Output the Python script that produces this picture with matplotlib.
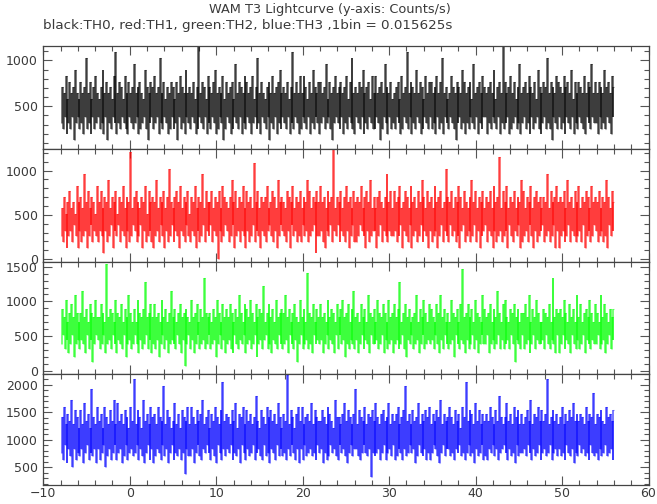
import numpy as np
import matplotlib
matplotlib.use("Agg")
import matplotlib.pyplot as plt
from matplotlib.ticker import MultipleLocator

title = "WAM T3 Lightcurve (y-axis: Counts/s)"
subtitle = "black:TH0, red:TH1, green:TH2, blue:TH3 ,1bin = 0.015625s"

bin_width = 0.015625  # s
t_start = -7.95
t_stop = 56.05

# counts per bin (rate = counts / bin_width)
th0_counts = [
5,11,4,10,6,13,3,9,5,12,4,10,6,11,2,14,5,10,6,9,
4,12,5,10,3,11,6,16,4,10,5,12,3,9,6,11,4,13,5,10,
6,9,4,11,5,14,3,10,6,12,2,10,5,11,4,9,6,13,5,17,
3,10,5,12,4,11,6,9,5,13,4,10,3,12,6,10,5,11,4,15,
5,10,6,11,3,12,4,10,5,9,6,14,4,11,2,10,5,12,6,11,
4,13,5,10,6,11,3,16,5,10,4,12,6,9,5,11,3,10,4,12,
6,11,4,9,5,12,2,10,6,13,4,11,5,10,3,14,6,10,5,11,
4,10,6,12,5,9,3,11,4,18,6,10,5,12,4,11,6,9,3,13,
5,11,4,10,6,12,5,14,3,10,4,11,6,10,5,13,2,9,4,12,
6,10,5,11,3,12,4,9,6,15,5,10,4,12,6,11,3,10,5,13,
4,12,6,10,5,11,3,13,5,9,6,11,4,16,5,10,3,12,6,10,
5,9,4,11,6,12,2,10,5,13,4,10,6,11,3,12,5,14,4,10,
6,11,5,10,4,12,6,9,3,11,5,17,4,10,6,12,5,10,3,13,
4,10,6,13,5,11,4,9,6,12,3,10,5,14,4,11,6,10,5,12,
3,12,5,10,6,11,4,15,5,9,6,12,4,10,2,11,5,13,6,10,
5,11,4,12,6,10,3,11,5,13,4,9,6,12,5,16,4,10,3,11,
6,10,5,12,4,11,6,14,3,10,5,11,4,12,6,9,5,13,4,10,
4,13,6,10,5,11,2,12,4,10,6,15,5,11,3,10,6,12,4,9,
5,10,4,11,6,12,5,9,3,13,4,10,6,11,5,17,4,10,6,12,
3,11,5,10,4,14,6,10,5,12,3,11,4,9,6,13,5,10,4,12,
6,12,4,10,5,11,3,13,6,10,4,12,5,16,3,10,6,11,5,9,
4,10,6,13,5,11,4,10,2,12,5,11,6,10,4,14,5,12,3,10,
5,11,4,12,6,9,5,15,4,10,6,11,3,12,5,10,4,13,6,11,
6,10,3,11,5,12,4,10,6,14,5,9,4,11,6,12,3,10,5,18,
4,12,5,10,6,11,3,13,4,10,5,12,6,9,4,11,5,15,3,10,
5,11,6,12,4,10,5,13,3,11,6,10,4,12,5,9,6,14,4,11,
3,10,5,12,6,11,4,16,5,10,4,12,2,11,6,10,5,13,4,12,
6,11,4,10,5,13,3,11,6,12,5,10,4,14,6,9,3,12,5,10,
4,12,6,11,5,10,4,13,3,10,6,12,5,11,4,15,6,10,5,12,
5,10,3,12,6,11,4,10,5,14,4,11,6,12,5,10,3,13,6,11,
]

th1_counts = [
4,9,3,11,5,8,2,10,4,12,5,9,3,10,6,8,4,13,2,10,
5,11,3,9,4,15,5,10,2,12,4,9,6,11,3,10,5,8,4,13,
3,10,5,12,4,9,1,11,5,10,3,14,4,9,6,11,2,10,5,12,
4,8,6,11,3,10,5,13,4,9,2,11,5,10,3,19,4,9,6,11,
5,12,3,10,4,9,6,11,2,10,5,13,3,8,4,12,5,10,3,11,
2,10,4,14,5,9,3,11,6,10,4,12,2,9,5,11,3,16,4,10,
6,9,3,11,5,12,4,10,2,13,5,9,4,11,3,10,6,12,4,8,
3,11,5,10,4,13,2,9,5,11,3,10,4,15,6,9,3,12,5,10,
4,10,6,12,3,9,5,11,4,10,0,12,5,9,3,13,4,11,6,10,
5,9,3,11,4,14,6,10,2,12,4,9,5,11,3,10,5,13,4,9,
2,12,5,10,3,11,4,9,6,17,3,10,5,12,4,9,2,11,5,10,
4,11,3,13,5,9,6,10,4,12,3,11,5,9,2,14,4,10,6,11,
5,10,4,9,3,12,5,11,2,10,6,13,4,9,5,11,3,10,4,12,
3,9,6,11,4,10,5,14,3,12,4,9,5,11,6,10,1,12,4,10,
4,13,5,10,3,11,2,9,5,12,4,10,6,11,3,20,5,9,4,11,
6,10,3,12,5,9,4,11,3,13,5,10,2,11,4,9,6,12,3,10,
3,11,4,10,6,13,5,9,4,11,2,12,5,10,3,14,4,9,5,11,
5,9,2,11,4,12,6,10,3,9,5,11,4,15,3,10,5,12,4,9,
4,12,5,10,3,11,4,13,6,9,2,10,5,12,4,11,3,9,6,13,
2,10,4,11,5,9,3,12,4,10,6,14,3,11,5,9,4,12,2,10,
5,11,3,9,4,13,5,10,2,11,4,12,6,9,3,10,5,16,4,11,
3,10,6,12,4,9,5,11,3,10,4,13,2,11,5,9,6,12,3,10,
4,9,5,11,3,14,4,10,6,12,3,9,5,11,2,10,4,12,5,9,
6,11,3,10,5,12,4,9,2,13,5,10,3,11,4,18,5,9,3,12,
4,10,5,13,2,9,6,11,4,10,3,12,5,9,4,11,6,10,2,14,
3,12,4,9,5,11,3,10,6,13,4,9,2,11,5,12,3,10,4,11,
5,9,6,11,3,10,4,15,5,9,3,12,4,10,6,11,2,13,5,10,
2,11,4,10,5,12,3,9,4,14,6,10,3,11,5,9,4,12,3,10,
4,13,5,9,3,11,6,10,2,12,4,11,5,9,3,13,4,10,6,11,
5,10,3,12,4,9,5,11,3,10,4,14,2,11,6,9,4,12,5,10,
]

th2_counts = [
6,14,8,12,5,16,7,11,4,13,6,15,8,12,3,17,6,13,7,11,
5,13,7,18,6,12,4,14,8,11,5,15,7,13,2,12,6,16,8,12,
7,12,5,15,6,13,8,11,4,24,6,12,7,14,5,13,8,11,6,16,
4,13,7,12,6,15,5,11,8,14,3,12,6,17,7,13,5,11,6,14,
8,11,6,16,4,13,7,12,5,14,6,20,8,12,5,13,7,15,4,12,
6,15,5,12,7,13,3,11,6,16,8,12,5,14,7,11,4,13,6,18,
7,12,6,14,5,11,8,13,6,15,4,12,7,13,1,14,6,12,8,11,
5,16,7,12,4,13,6,15,8,11,5,14,6,12,7,21,5,13,6,12,
8,13,5,11,6,14,7,12,3,16,6,13,8,11,5,15,7,12,4,14,
6,12,7,15,5,13,4,11,8,14,6,12,5,17,7,13,6,11,8,15,
4,14,6,12,7,16,5,13,6,11,8,15,3,12,6,14,7,13,5,19,
7,11,8,13,5,15,6,12,4,14,7,11,6,16,5,12,8,13,6,14,
5,13,6,17,7,12,4,14,8,11,6,13,5,15,7,12,2,11,6,16,
8,12,5,14,6,11,7,22,5,13,6,12,4,15,8,11,6,14,7,12,
6,15,7,12,4,13,6,11,8,16,5,12,7,14,6,13,4,11,8,15,
5,12,8,14,6,16,7,12,3,13,6,15,5,11,7,14,6,18,5,12,
7,13,4,11,6,15,8,12,5,14,7,11,6,17,4,13,8,12,6,14,
6,11,7,16,5,13,6,12,8,15,4,13,7,11,5,16,6,12,7,13,
4,15,6,12,7,14,5,20,6,11,8,13,5,15,3,12,7,14,6,11,
8,12,5,13,6,17,7,11,4,14,6,12,8,16,5,13,6,11,7,15,
6,14,7,12,5,11,8,15,6,13,4,17,7,12,5,14,8,11,6,13,
5,11,6,16,7,13,3,12,8,14,6,11,5,15,7,23,6,12,4,13,
7,15,5,12,6,14,8,11,5,16,7,13,4,12,6,11,8,17,6,14,
6,12,8,13,4,15,6,11,7,14,5,12,6,18,8,13,5,11,7,15,
5,16,6,12,7,11,5,14,8,13,6,15,2,12,7,14,6,11,5,13,
8,13,5,15,6,12,7,17,4,11,6,14,8,12,5,16,7,13,6,11,
6,11,7,14,5,13,8,12,6,15,5,11,7,21,6,12,4,14,8,13,
4,14,6,12,8,16,5,13,7,11,6,15,4,12,8,14,6,11,5,17,
7,12,5,15,6,11,8,13,4,14,7,12,6,16,5,13,7,11,6,15,
6,13,8,11,5,17,6,12,7,15,4,13,6,11,8,14,5,12,7,14,
]

th3_counts = [
12,22,10,25,14,20,9,23,13,21,11,27,8,20,13,24,10,22,12,19,
11,24,13,20,9,26,12,21,14,23,10,19,12,30,11,22,13,20,9,25,
13,21,10,23,12,19,14,25,8,22,11,20,13,24,10,21,12,27,14,20,
10,26,12,21,13,23,9,20,11,24,14,22,10,19,12,25,13,21,11,33,
12,20,14,24,10,22,13,19,11,27,9,21,12,23,14,20,10,25,13,22,
9,23,11,20,13,25,12,22,10,21,14,31,11,20,13,24,9,22,12,19,
14,21,10,26,12,20,11,23,13,19,10,24,12,22,6,21,13,25,11,20,
11,25,13,22,9,20,12,24,14,21,11,23,10,27,13,20,12,22,14,24,
12,19,10,23,13,21,11,25,9,22,14,20,12,24,10,32,13,21,11,23,
13,22,12,20,14,24,10,21,12,26,11,19,13,23,9,22,14,25,12,20,
10,24,13,21,11,23,12,20,14,22,10,28,12,21,13,19,11,24,10,22,
14,20,11,25,12,22,9,24,13,21,12,23,10,20,14,26,11,22,13,19,
11,23,12,21,10,34,13,20,11,24,14,22,12,19,10,23,13,25,9,21,
13,25,10,20,14,22,11,23,12,21,13,26,11,20,12,24,10,22,14,21,
12,21,13,24,9,22,12,20,10,25,11,23,14,21,12,19,13,27,11,22,
10,22,14,20,12,23,13,26,11,21,9,24,12,22,14,20,11,23,13,30,
13,20,11,24,10,22,12,21,14,25,12,20,11,23,13,22,5,24,12,21,
11,26,12,22,13,20,10,23,12,24,14,21,10,22,12,26,13,20,11,23,
14,21,10,23,11,25,13,20,12,22,10,24,13,31,11,21,12,23,14,20,
12,24,13,21,9,22,11,26,14,20,12,23,11,21,13,24,10,22,12,25,
10,20,12,23,14,21,13,24,11,22,9,27,12,20,14,23,11,21,13,22,
13,25,11,22,12,20,10,24,13,21,12,23,14,19,11,25,12,22,10,32,
12,21,14,24,11,23,12,20,9,26,13,21,11,24,12,20,14,23,10,21,
11,23,10,21,13,25,12,22,14,20,11,24,13,21,10,28,12,22,13,20,
14,22,12,26,10,21,13,23,11,20,12,25,9,22,14,24,11,20,12,23,
12,20,13,22,11,24,14,21,12,27,10,20,13,23,11,22,12,25,14,21,
10,24,12,21,13,23,11,33,12,20,14,22,10,24,12,21,13,23,11,20,
13,22,11,25,12,20,10,23,14,21,12,24,11,22,13,26,9,21,12,23,
11,21,14,23,12,22,13,20,11,25,12,21,10,23,14,22,12,29,11,20,
12,23,10,22,13,24,11,21,12,20,14,25,11,22,12,23,13,21,10,24,
]

series = [th0_counts, th1_counts, th2_counts, th3_counts]
colors = ["#000000", "#ff0000", "#00ff00", "#0000ff"]
ylims = [(33, 1160), (-30, 1245), (-40, 1572), (186, 2205)]
yticks = [[500, 1000], [0, 500, 1000], [0, 500, 1000, 1500], [500, 1000, 1500, 2000]]

W, H = 657, 504
fig = plt.figure(figsize=(W / 100, H / 100), dpi=100)
fig.patch.set_facecolor("white")

left = 43.3 / W
width = (648.5 - 43.3) / W
edges = [45.7, 149.0, 261.7, 373.5, 484.5]
txtc = "#3a3a3a"

for i, (cnts, c, yl, yt) in enumerate(zip(series, colors, ylims, yticks)):
    top, bot = edges[i], edges[i + 1]
    ax = fig.add_axes([left, 1 - bot / H, width, (bot - top) / H])
    v = np.asarray(cnts, dtype=float) / bin_width
    n = len(v)
    t = np.linspace(t_start, t_stop, n + 1)
    # histogram-style light curve: risers between bins + bin tops
    lo = np.minimum(v[:-1], v[1:])
    hi = np.maximum(v[:-1], v[1:])
    ax.vlines(t[1:-1], lo, hi, colors=c, lw=1.4, alpha=0.52)
    ax.hlines(v, t[:-1], t[1:], colors=c, lw=0.8, alpha=0.5)
    ax.set_xlim(-10, 60)
    ax.set_ylim(*yl)
    ax.set_yticks(yt)
    ax.yaxis.set_minor_locator(MultipleLocator(100))
    ax.xaxis.set_major_locator(MultipleLocator(10))
    ax.xaxis.set_minor_locator(MultipleLocator(2))
    ax.tick_params(which="both", direction="in", top=True, right=True,
                   color="#555555", width=0.8, labelsize=9, labelcolor=txtc, pad=4)
    ax.tick_params(which="major", length=6.5)
    ax.tick_params(which="minor", length=3.3)
    for s in ax.spines.values():
        s.set_color("#444444")
        s.set_linewidth(0.9)
    if i < 3:
        ax.tick_params(labelbottom=False)
    else:
        ax.tick_params(axis="x", pad=2)

fig.text(330 / W, 1 - 9 / H, title, ha="center", va="center", fontsize=9.3, color=txtc)
fig.text(43 / W, 1 - 25 / H, subtitle, ha="left", va="center", fontsize=9.7, color=txtc)

fig.savefig("out.png", dpi=100)
